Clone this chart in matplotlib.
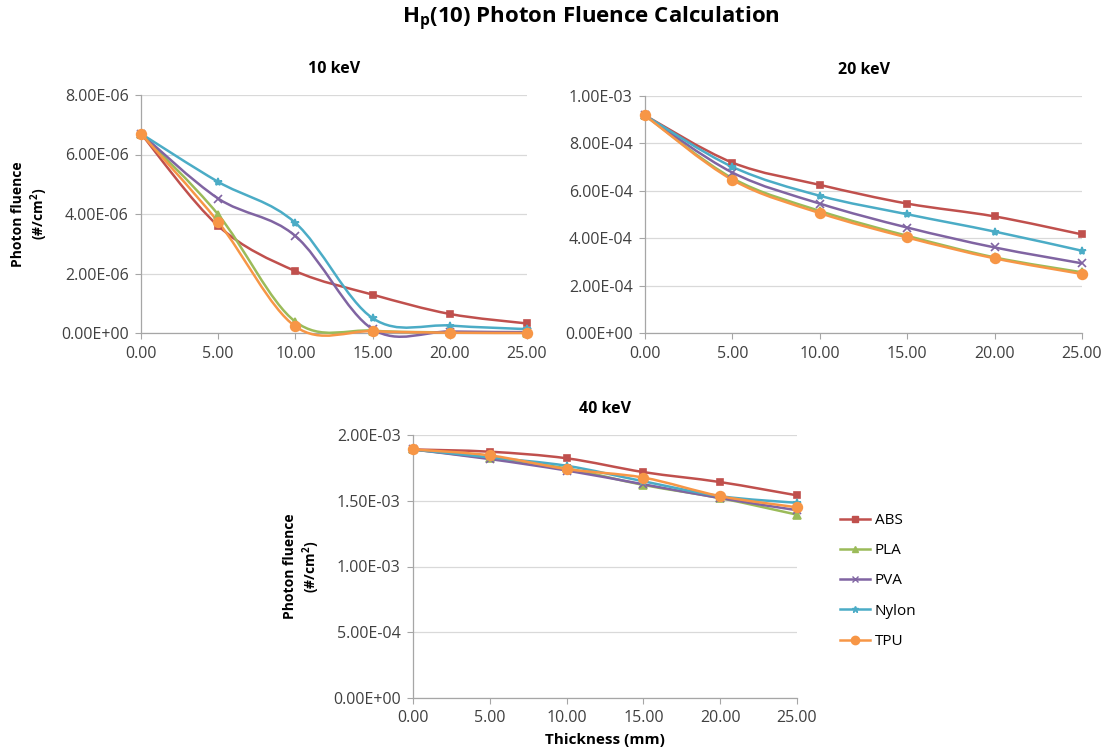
#!/usr/bin/env python3
import matplotlib
matplotlib.use('Agg')
import matplotlib.pyplot as plt
import numpy as np
from matplotlib.path import Path
from matplotlib.patches import PathPatch
from matplotlib.ticker import FixedLocator, FuncFormatter

plt.rcParams.update({
    'font.family': ['Open Sans', 'DejaVu Sans'],
    'font.size': 10,
})

thickness = [0, 5, 10, 15, 20, 25]
materials = ['ABS', 'PLA', 'PVA', 'Nylon', 'TPU']

# 10 keV (x1E-6)
abs_10 = [6.70, 3.60, 2.08, 1.29, 0.64, 0.32]
pla_10 = [6.70, 3.98, 0.38, 0.08, 0.02, 0.01]
pva_10 = [6.70, 4.52, 3.26, 0.13, 0.05, 0.03]
nylon_10 = [6.70, 5.08, 3.70, 0.50, 0.25, 0.13]
tpu_10 = [6.70, 3.73, 0.22, 0.06, 0.01, 0.00]

# 20 keV (x1E-4)
abs_20 = [9.18, 7.19, 6.25, 5.46, 4.92, 4.16]
pla_20 = [9.18, 6.53, 5.15, 4.10, 3.19, 2.56]
pva_20 = [9.18, 6.77, 5.46, 4.45, 3.61, 2.94]
nylon_20 = [9.18, 7.01, 5.79, 5.01, 4.28, 3.47]
tpu_20 = [9.18, 6.46, 5.06, 4.03, 3.15, 2.49]

# 40 keV (x1E-3)
abs_40 = [1.890, 1.873, 1.823, 1.718, 1.642, 1.541]
pla_40 = [1.890, 1.823, 1.746, 1.620, 1.520, 1.394]
pva_40 = [1.890, 1.817, 1.730, 1.625, 1.520, 1.428]
nylon_40 = [1.890, 1.830, 1.766, 1.648, 1.535, 1.484]
tpu_40 = [1.890, 1.845, 1.741, 1.676, 1.535, 1.450]

colors = {'ABS': '#C0504D', 'PLA': '#9BBB59', 'PVA': '#8064A2',
          'Nylon': '#4BACC6', 'TPU': '#F79646'}
markers = {'ABS': ('s', 5), 'PLA': ('^', 6), 'PVA': ('x', 6),
           'Nylon': ('*', 6), 'TPU': ('o', 7)}


def smooth_path(x, y):
    # Excel-style smoothed line: cubic Bezier segments through the points
    pts = np.column_stack([x, y]).astype(float)
    n = len(pts)
    verts = [pts[0]]
    codes = [Path.MOVETO]
    for i in range(n - 1):
        p0 = pts[i - 1] if i > 0 else pts[i]
        p1 = pts[i]
        p2 = pts[i + 1]
        p3 = pts[i + 2] if i + 2 < n else pts[i + 1]
        c1 = p1 + (p2 - p0) / 6.0
        c2 = p2 - (p3 - p1) / 6.0
        verts += [c1, c2, p2]
        codes += [Path.CURVE4] * 3
    return Path(verts, codes)


def draw_panel(ax, series, scale, ymax, ystep, title):
    for name, vals in zip(materials, series):
        v = np.array(vals) * scale
        ax.add_patch(PathPatch(smooth_path(thickness, v), facecolor='none',
                               edgecolor=colors[name], lw=1.8, zorder=3,
                               clip_on=False))
        m, ms = markers[name]
        ax.plot(thickness, v, linestyle='none', marker=m, ms=ms,
                color=colors[name], mew=1.2, zorder=4, clip_on=False)
    ax.set_xlim(0, 25)
    ax.set_ylim(0, ymax)
    ax.xaxis.set_major_locator(FixedLocator(thickness))
    ax.xaxis.set_major_formatter(FuncFormatter(lambda v, p: f'{v:.2f}'))
    ax.yaxis.set_major_locator(FixedLocator(np.arange(0, ymax + ystep / 2, ystep)))
    ax.yaxis.set_major_formatter(FuncFormatter(lambda v, p: f'{v:.2E}'))
    ax.grid(axis='y', color='#D9D9D9', lw=0.9)
    ax.set_axisbelow(True)
    for s in ['top', 'right']:
        ax.spines[s].set_visible(False)
    for s in ['left', 'bottom']:
        ax.spines[s].set_color('#A6A6A6')
        ax.spines[s].set_linewidth(0.9)
    ax.tick_params(axis='both', direction='out', length=4, color='#A6A6A6',
                   labelsize=11.5, labelcolor='#404040', pad=5)
    ax.set_title(title, fontsize=11.5, fontweight='bold', pad=16)


fig = plt.figure(figsize=(11.06, 7.47), dpi=100)
W, H = 1106, 747
ax1 = fig.add_axes([141 / W, 1 - 333 / H, (527 - 141) / W, (333 - 95) / H])
ax2 = fig.add_axes([645 / W, 1 - 333 / H, (1082 - 645) / W, (333 - 96) / H])
ax3 = fig.add_axes([413 / W, 1 - 698 / H, (797 - 413) / W, (698 - 435) / H])

draw_panel(ax1, [abs_10, pla_10, pva_10, nylon_10, tpu_10], 1e-6, 8e-6, 2e-6, '10 keV')
draw_panel(ax2, [abs_20, pla_20, pva_20, nylon_20, tpu_20], 1e-4, 1e-3, 2e-4, '20 keV')
draw_panel(ax3, [abs_40, pla_40, pva_40, nylon_40, tpu_40], 1e-3, 2e-3, 5e-4, '40 keV')

ylab = 'Photon fluence\n(#/cm$^\\mathregular{2}$)'
ax1.set_ylabel(ylab, fontsize=10, fontweight='bold', labelpad=8)
ax3.set_ylabel(ylab, fontsize=10, fontweight='bold', labelpad=8)
ax3.set_xlabel('Thickness (mm)', fontsize=11, fontweight='bold', labelpad=5)

handles = []
for name in materials:
    m, ms = markers[name]
    h, = ax3.plot([], [], color=colors[name], marker=m, ms=ms - 1, lw=1.8,
                  label=name)
    handles.append(h)
fig.legend(handles=handles, loc='center left', bbox_to_anchor=(826 / W, 1 - 581 / H),
           frameon=False, fontsize=11, handlelength=2.0, handletextpad=0.3,
           labelspacing=1.0)

fig.text(591 / W, 1 - 19 / H, 'H$_\\mathregular{p}$(10) Photon Fluence Calculation',
         ha='center', va='center', fontsize=16, fontweight='bold')

fig.savefig('out.png', dpi=100)
